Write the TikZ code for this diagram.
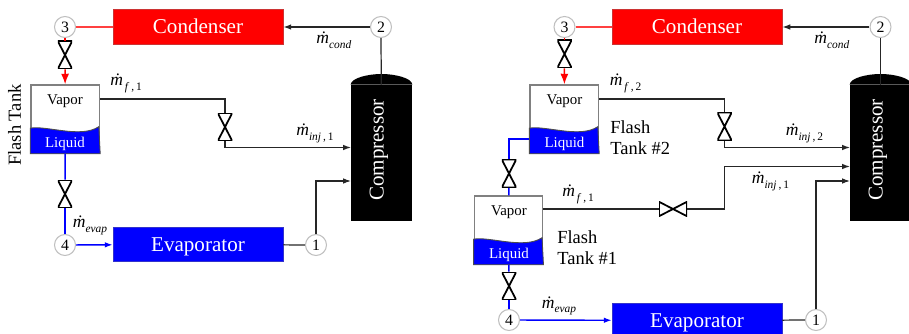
\documentclass[tikz,border=0pt]{standalone}
\usepackage{fontspec}
\setmainfont{Liberation Serif}
\usetikzlibrary{arrows.meta}
\newcommand{\mdot}[1]{\textit{\.m}\raisebox{-2.6pt}{\fontsize{6.5}{7}\selectfont #1}}
\tikzset{
    hxbox/.style={draw=#1!60!gray, fill=#1, text=white, minimum width=3.4cm, minimum height=0.69cm, inner sep=0, text height=7.9pt, text depth=0pt, font=\fontsize{12}{14}\selectfont},
    statept/.style={circle, draw=gray!50, line width=0.6pt, fill=white, minimum size=0.42cm, inner sep=0, font=\fontsize{9}{10}\selectfont},
    valvev/.style={minimum width=0.29cm, minimum height=0.56cm, inner sep=0, path picture={\draw[line width=1pt] (path picture bounding box.north west) -- (path picture bounding box.north east) -- (path picture bounding box.south west) -- (path picture bounding box.south east) -- cycle;}},
    valveh/.style={minimum width=0.56cm, minimum height=0.29cm, inner sep=0, path picture={\draw[line width=1pt] (path picture bounding box.north west) -- (path picture bounding box.south east) -- (path picture bounding box.north east) -- (path picture bounding box.south west) -- cycle;}},
    tankbox/.style={draw=gray, line width=0.8pt, fill=white, minimum width=1.37cm, minimum height=1.36cm, inner sep=0},
    liquid/.style={draw=black!70, line width=0.5pt, fill=blue},
    compbody/.style={fill=black, minimum width=1.22cm, minimum height=2.72cm, inner sep=0},
    tanktext/.style={inner sep=0, font=\fontsize{8.5}{10}\selectfont},
    flowlabel/.style={anchor=base west, inner sep=0, font=\fontsize{10}{12}\selectfont},
    tanklabel/.style={anchor=west, align=left, inner sep=0, font=\fontsize{10.5}{12}\selectfont},
    flow/.style={line width=0.7pt, black!85, -{Latex[length=4.5pt,width=3.2pt]}},
    pipe/.style={line width=0.7pt, black!85},
}
\begin{document}
\begin{tikzpicture}[x=0.02cm, y=-0.02cm]
    \clip (0,0) rectangle (909,334);
    %%% One flash tank
    \node[hxbox=red] (condL) at (198,27) {Condenser};
    \node[hxbox=blue] (evapL) at (198,244.5) {Evaporator};
    \node[statept] (s3L) at (65,27) {3};
    \node[statept] (s4L) at (65,245) {4};
    \node[statept] (s1L) at (316,245) {1};
    \node[statept] (s2L) at (381,27) {2};
    \node[valvev] (vTopL) at (65,55) {};
    \node[valvev] (vBotL) at (65,194) {};
    \node[valvev] (vInjL) at (225,127) {};
    \node[tankbox] (tankL) at (65.25,119) {};
    \draw[liquid] (tankL.south west) -- ++(0,-25.5) .. controls +(16,-3) and +(-18,12) .. ++(68.5,-1.5) -- (tankL.south east) -- cycle;
    \node[tanktext] (vapL) at (65,101.5) {Vapor};
    \node[tanktext, white] (liqL) at (65,144) {Liquid};
    \node[compbody] (compL) at (381.5,153) {};
    \fill[black] (compL.north west) .. controls (351,78) and (368,74) .. (381.5,74) .. controls (395,74) and (412,78) .. (compL.north east) -- cycle;
    \node[rotate=90, white, inner sep=0, font=\fontsize{12}{14}\selectfont] (compTextL) at (379,150) {Compressor};
    \coordinate (inInjL) at (351,147.5);
    \coordinate (inSucL) at (351,181);
    % pipes
    \draw[line width=0.9pt, red!75] (s3L) -- (condL);
    \draw[line width=0.9pt, red] (s3L) -- (vTopL);
    \draw[line width=0.9pt, red, -{Latex[length=6pt,width=4.6pt]}] (vTopL) -- (tankL);
    \draw[line width=0.8pt, blue] (tankL) -- (vBotL);
    \draw[line width=0.8pt, blue] (vBotL) -- (s4L);
    \draw[line width=0.8pt, blue, -{Latex[length=4.5pt,width=3.2pt]}] (s4L) -- (evapL);
    \draw[flow] (s2L) -- (condL);
    \draw[pipe] (s2L) -- (compL);
    \draw[pipe] (evapL) -- (s1L);
    \draw[flow] (s1L) |- (inSucL);
    \draw[pipe] (tankL.east |- 0,99) -| (vInjL);
    \draw[flow] (vInjL) |- (inInjL);
    % labels
    \node[flowlabel] (mFL) at (110,86) {\mdot{\,\textit{f}\,,\,1}};
    \node[flowlabel] (mInjL) at (296,136) {\mdot{\textit{inj}\,,\,1}};
    \node[flowlabel] (mCondL) at (316,44) {\mdot{\textit{cond}}};
    \node[flowlabel] (mEvapL) at (72.5,228) {\mdot{\textit{evap}}};
    \node[rotate=90, inner sep=0, font=\fontsize{10.5}{12}\selectfont] (flashL) at (14.5,125) {Flash Tank};
    %
    %%% Two flash tanks
    \node[hxbox=red] (condR) at (697,27) {Condenser};
    \node[hxbox=blue] (evapR) at (697,320.5) {Evaporator};
    \node[statept] (s3R) at (564.5,27) {3};
    \node[statept] (s4R) at (509,320) {4};
    \node[statept] (s1R) at (816,320) {1};
    \node[statept] (s2R) at (880.5,27) {2};
    \node[valvev] (vTopR) at (564.5,54) {};
    \node[valvev] (vMidR) at (509,173.5) {};
    \node[valvev] (vBotR) at (509,286) {};
    \node[valvev] (vInjB) at (724.5,126.5) {};
    \node[valveh] (vInjA) at (673,209) {};
    \node[tankbox] (tankB) at (564.25,119) {};
    \node[tankbox] (tankA) at (508.5,230) {};
    \foreach \tank in {tankA, tankB} {
        \draw[liquid] (\tank.south west) -- ++(0,-25.5) .. controls +(16,-3) and +(-18,12) .. ++(68.5,-1.5) -- (\tank.south east) -- cycle;
    }
    \node[tanktext] (vapB) at (564.5,101.5) {Vapor};
    \node[tanktext, white] (liqB) at (564.5,144) {Liquid};
    \node[tanktext] (vapA) at (509,212.5) {Vapor};
    \node[tanktext, white] (liqA) at (509,255) {Liquid};
    \node[compbody] (compR) at (880.5,153) {};
    \fill[black] (compR.north west) .. controls (850,78) and (867,74) .. (880.5,74) .. controls (894,74) and (911,78) .. (compR.north east) -- cycle;
    \node[rotate=90, white, inner sep=0, font=\fontsize{12}{14}\selectfont] (compTextR) at (878,150) {Compressor};
    \coordinate (inInjB) at (850,147.5);
    \coordinate (inInjA) at (850,166.5);
    \coordinate (inSucR) at (850,181);
    % pipes
    \draw[line width=0.9pt, red!75] (s3R) -- (condR);
    \draw[line width=0.9pt, red] (s3R) -- (vTopR);
    \draw[line width=0.9pt, red, -{Latex[length=6pt,width=4.6pt]}] (vTopR) -- (tankB);
    \draw[line width=0.8pt, blue] (tankB.west |- 0,139) -| (vMidR);
    \draw[line width=0.8pt, blue] (vMidR) -- (tankA);
    \draw[line width=0.8pt, blue] (tankA) -- (vBotR);
    \draw[line width=0.8pt, blue] (vBotR) -- (s4R);
    \draw[line width=0.8pt, blue, -{Latex[length=4.5pt,width=3.2pt]}] (s4R) -- (evapR);
    \draw[flow] (s2R) -- (condR);
    \draw[pipe] (s2R) -- (compR);
    \draw[pipe] (evapR) -- (s1R);
    \draw[flow] (s1R) |- (inSucR);
    \draw[pipe] (tankB.east |- 0,99) -| (vInjB);
    \draw[flow] (vInjB) |- (inInjB);
    \draw[pipe] (tankA.east |- 0,209) -- (vInjA);
    \draw[flow] (vInjA) -| (vInjB.south |- inInjA) -- (inInjA);
    % labels
    \node[flowlabel] (mFB) at (609.5,86) {\mdot{\,\textit{f}\,,\,2}};
    \node[flowlabel] (mFA) at (562,197) {\mdot{\,\textit{f}\,,\,1}};
    \node[flowlabel] (mInjB) at (785.5,136) {\mdot{\textit{inj}\,,\,2}};
    \node[flowlabel] (mInjA) at (751.5,184) {\mdot{\textit{inj}\,,\,1}};
    \node[flowlabel] (mCondR) at (814,44) {\mdot{\textit{cond}}};
    \node[flowlabel] (mEvapR) at (541.5,308) {\mdot{\textit{evap}}};
    \node[tanklabel] (flashB) at (610,137.5) {Flash\\Tank \#2};
    \node[tanklabel] (flashA) at (557,247.5) {Flash\\Tank \#1};
\end{tikzpicture}
\end{document}
